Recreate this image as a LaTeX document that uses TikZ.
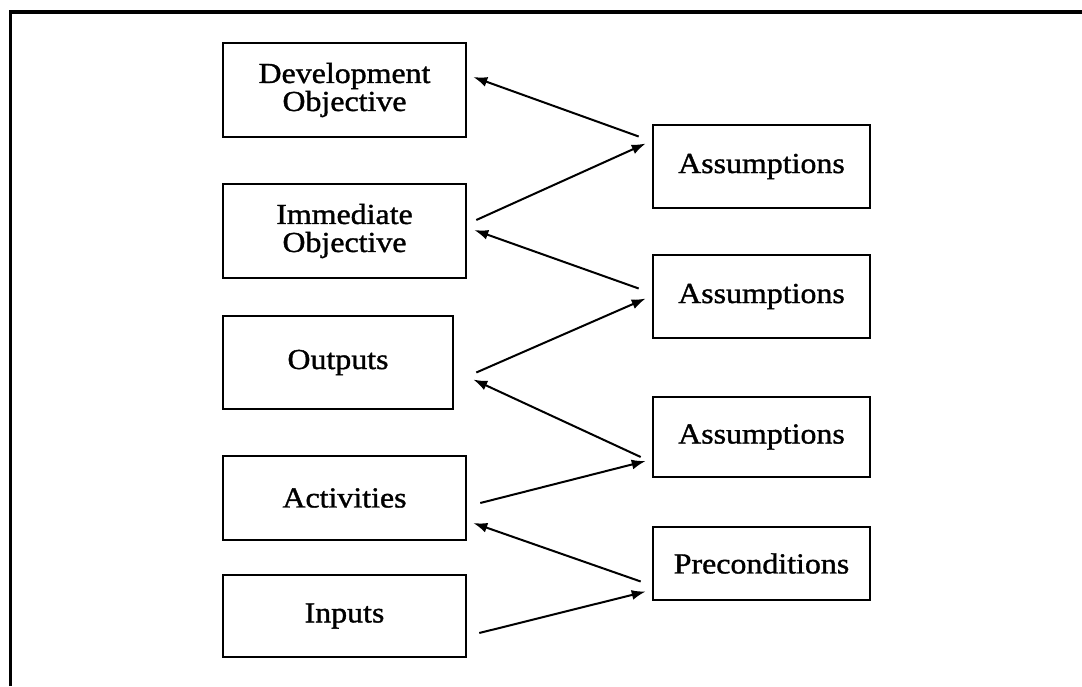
\documentclass[tikz,border=0pt]{standalone}
\usepackage{fontspec}
\setmainfont{Liberation Serif}[FakeStretch=1.1,FakeBold=1.2]
\usetikzlibrary{scopes}
\usetikzlibrary{arrows.meta}

\begin{document}
\begin{tikzpicture}[
    x=1pt, y=-1pt,
    >={Latex[length=14pt,width=10pt]},
    frame/.style={line width=3.2pt},
    box/.style={rectangle,draw,line width=2.6pt,inner sep=0pt,align=center,
        font=\fontsize{29}{28}\selectfont},
    lbox/.style={box,minimum width=243pt,minimum height=94pt},
    rbox/.style={box,minimum width=217pt,minimum height=83pt},
    link/.style={->,line width=2pt},
]
    \useasboundingbox (0,0) rectangle (1082,686);
    \draw[frame] (10.5,686) -- (10.5,12) -- (1082,12);

    % Left column
    \node[lbox] (dev) at (344.5,90) {Development\\Objective};
    \node[lbox] (imm) at (344.5,231) {Immediate\\Objective};
    \node[lbox,minimum width=230pt,minimum height=93pt] (out) at (338,362.5) {Outputs};
    \node[lbox,minimum height=84pt] (act) at (344.5,498) {Activities};
    \node[lbox,minimum height=82pt] (inp) at (344.5,616) {Inputs};

    % Right column
    \node[rbox] (a1) at (761.5,166.5) {Assumptions};
    \node[rbox] (a2) at (761.5,296.5) {Assumptions};
    \node[rbox,minimum height=80pt] (a3) at (761.5,437) {Assumptions};
    \node[rbox,minimum height=73pt] (pre) at (761.5,563.5) {Preconditions};

    % Links between the two columns
    {[link]
        \draw ([xshift=-13pt,yshift=30pt]a1.west) -- ([xshift=6pt,yshift=13pt]dev.east);
        \draw ([xshift=9pt,yshift=11pt]imm.east) -- ([xshift=-6pt,yshift=23pt]a1.west);
        \draw ([xshift=-13pt,yshift=8pt]a2.west) -- ([xshift=7pt,yshift=1pt]imm.east);
        \draw ([xshift=22pt,yshift=-10pt]out.east) -- ([xshift=-6pt,yshift=-2pt]a2.west);
        \draw ([xshift=-11pt,yshift=-20pt]a3.west) -- ([xshift=19pt,yshift=-17pt]out.east);
        \draw ([xshift=13pt,yshift=-5pt]act.east) -- ([xshift=-6pt,yshift=-24pt]a3.west);
        \draw ([xshift=-11pt,yshift=-18pt]pre.west) -- ([xshift=6pt,yshift=-25pt]act.east);
        \draw ([xshift=12pt,yshift=-17pt]inp.east) -- ([xshift=-6pt,yshift=-28pt]pre.west);
    }
\end{tikzpicture}
\end{document}
